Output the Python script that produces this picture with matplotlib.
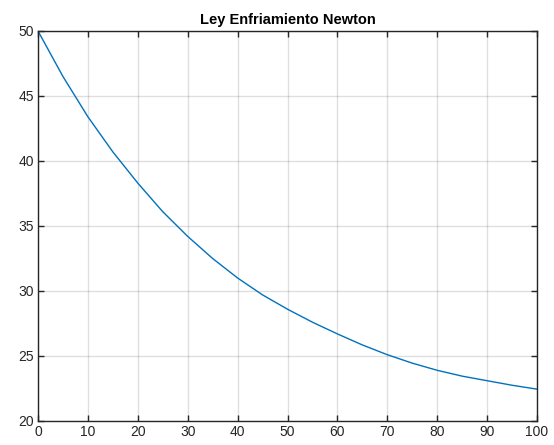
import numpy as np
import matplotlib.pyplot as plt

plt.rcParams['font.family'] = ['Liberation Sans', 'DejaVu Sans']

t = [0, 5, 10, 15, 20, 25, 30, 35, 40, 45, 50, 55, 60, 65, 70, 75, 80, 85, 90, 95, 100]
temp = [50.0, 46.5, 43.4, 40.7, 38.3, 36.1, 34.2, 32.5, 31.0, 29.7, 28.6,
        27.6, 26.7, 25.85, 25.1, 24.45, 23.9, 23.45, 23.1, 22.75, 22.45]

fig = plt.figure(figsize=(5.54, 4.45), dpi=100)
ax = fig.add_axes([38/554, 24/445, 499/554, 390/445])

ax.plot(t, temp, color='#0072BD', lw=1.0)

ax.set_xlim(0, 100)
ax.set_ylim(20, 50)
ax.set_xticks(np.arange(0, 101, 10))
ax.set_yticks(np.arange(20, 51, 5))
ax.grid(True, color='#262626', alpha=0.15, lw=1.0)
ax.set_axisbelow(True)
ax.tick_params(direction='in', top=True, right=True, length=4, width=1,
               labelsize=10, colors='#262626', pad=3)
for s in ax.spines.values():
    s.set_color('#262626')
    s.set_linewidth(1.0)

ax.set_title('Ley Enfriamiento Newton', fontsize=10.5, fontweight='bold', pad=5)

fig.savefig('out.png', dpi=100)
